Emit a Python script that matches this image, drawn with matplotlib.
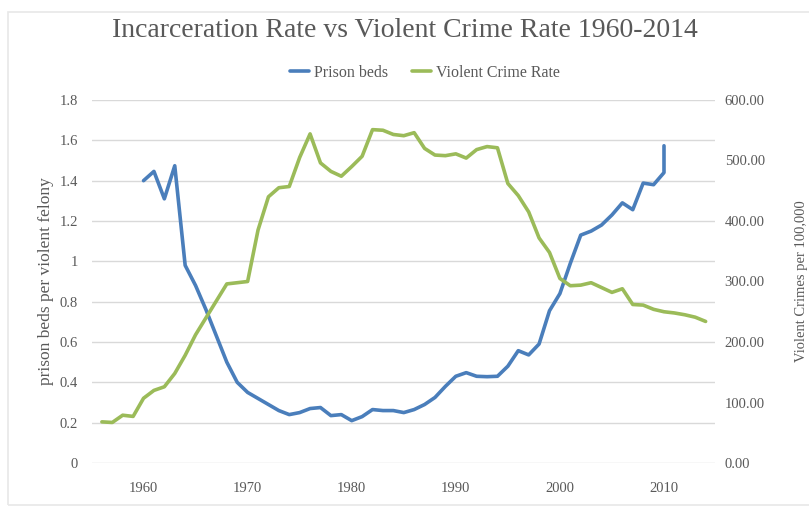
import matplotlib
matplotlib.use("Agg")
import matplotlib.pyplot as plt
from matplotlib.patches import Rectangle
from matplotlib.ticker import FormatStrFormatter

# prison beds per violent felony (left axis)
bed_years = list(range(1960, 2011)) + [2010]
prison_beds = [1.40, 1.446, 1.31, 1.474, 0.98, 0.88, 0.76, 0.63, 0.50, 0.40,
               0.35, 0.32, 0.29, 0.26, 0.24, 0.25, 0.27, 0.275, 0.235, 0.24,
               0.21, 0.23, 0.265, 0.26, 0.26, 0.25, 0.265, 0.29, 0.325, 0.38,
               0.43, 0.448, 0.43, 0.428, 0.43, 0.48, 0.557, 0.536, 0.59, 0.755,
               0.84, 0.99, 1.13, 1.15, 1.18, 1.23, 1.29, 1.256, 1.388, 1.38,
               1.44, 1.573]

# violent crimes per 100,000 (right axis)
crime_years = list(range(1956, 2015))
crime_rate = [68, 67, 79, 77, 107, 120, 126, 148, 178, 212,
              240, 268, 296, 298, 300, 385, 440, 455, 457, 505,
              544, 496, 482, 474, 490, 507, 551, 550, 543, 541,
              546, 520, 509, 508, 511, 504, 518, 523, 521, 462,
              442, 415, 372, 348, 305, 293, 294, 298, 290, 282,
              288, 262, 261, 254, 250, 248, 245, 241, 234]

left_ticks = [0, 0.2, 0.4, 0.6, 0.8, 1.0, 1.2, 1.4, 1.6, 1.8]
left_labels = ["0", "0.2", "0.4", "0.6", "0.8", "1", "1.2", "1.4", "1.6", "1.8"]
right_ticks = [0, 100, 200, 300, 400, 500, 600]
x_ticks = [1960, 1970, 1980, 1990, 2000, 2010]

BLUE = "#4A7EBB"
GREEN = "#9BBB59"
TXT = "#595959"
plt.rcParams["font.family"] = ["Liberation Serif", "DejaVu Serif"]

fig = plt.figure(figsize=(8.09, 5.12), dpi=100)
# faint chart-area frame like the screenshot
fig.patches.append(Rectangle((8 / 809, 7 / 512), 1.0, 493 / 512, transform=fig.transFigure,
                             fill=False, edgecolor="#E8E8E8", lw=1.2))

ax = fig.add_axes([92 / 809, 49 / 512, 623 / 809, 363 / 512])
ax2 = ax.twinx()

l1, = ax.plot(bed_years, prison_beds, color=BLUE, lw=2.6, label="Prison beds",
              solid_joinstyle="round", solid_capstyle="round")
l2, = ax2.plot(crime_years, crime_rate, color=GREEN, lw=2.6, label="Violent Crime Rate",
               solid_joinstyle="round", solid_capstyle="round")

ax.set_xlim(1955.05, 2014.9)
ax.set_ylim(0, 1.8)
ax2.set_ylim(0, 600)

ax.set_yticks(left_ticks)
ax.set_yticklabels(left_labels)
ax.set_xticks(x_ticks)
ax2.set_yticks(right_ticks)
ax2.yaxis.set_major_formatter(FormatStrFormatter("%.2f"))

ax.grid(axis="y", color="#D9D9D9", lw=1)
ax.set_axisbelow(True)
for a in (ax, ax2):
    for s in a.spines.values():
        s.set_visible(False)
    a.tick_params(length=0, colors=TXT, labelsize=10.5)
ax.tick_params(axis="y", pad=10)
ax.tick_params(axis="x", pad=14)
ax2.tick_params(axis="y", pad=7)

ax.set_ylabel("prison beds per violent felony", color=TXT, fontsize=12.5, labelpad=4)
ax2.set_ylabel("Violent Crimes per 100,000", color=TXT, fontsize=10.5, labelpad=22)

fig.suptitle("Incarceration Rate vs Violent Crime Rate 1960-2014", color=TXT,
             fontsize=20, y=0.965)
fig.legend(handles=[l1, l2], loc="center", bbox_to_anchor=(0.525, 0.858), ncol=2,
           frameon=False, fontsize=11.5, labelcolor=TXT, handlelength=1.2,
           handletextpad=0.3, columnspacing=1.5)

fig.savefig("out.png", dpi=100)
